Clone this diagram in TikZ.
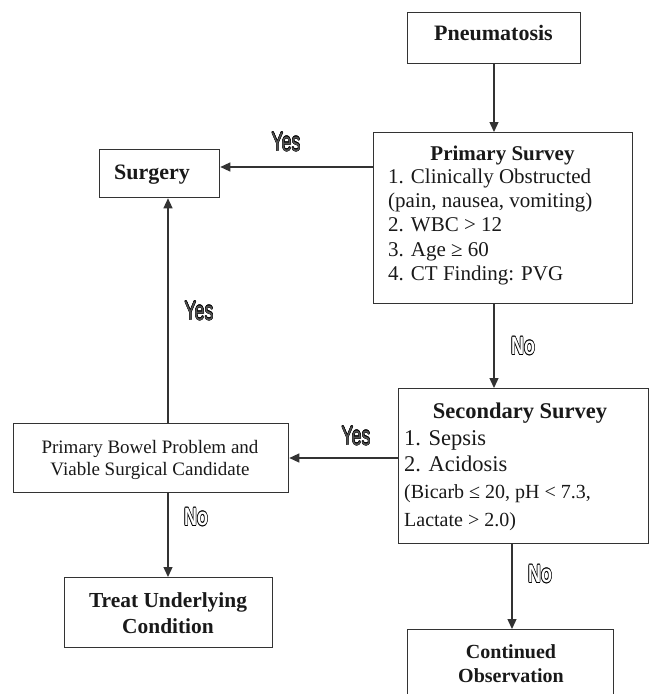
\documentclass[tikz,border=0pt]{standalone}
\usepackage{fontspec}
\setmainfont{Liberation Serif}
\newfontfamily\lblfont{Liberation Sans}
\usetikzlibrary{arrows.meta}
\newlength\holw
\newcommand\hollowtxt[2]{%
  \rlap{\kern\holw#2}\rlap{\kern-\holw#2}\rlap{\raisebox{\holw}{#2}}\rlap{\raisebox{-\holw}{#2}}%
  \rlap{\kern.7\holw\raisebox{.7\holw}{#2}}\rlap{\kern-.7\holw\raisebox{.7\holw}{#2}}%
  \rlap{\kern.7\holw\raisebox{-.7\holw}{#2}}\rlap{\kern-.7\holw\raisebox{-.7\holw}{#2}}%
  {\color{#1}#2}}
\newcommand\yeslabel{\setlength\holw{.45pt}\scalebox{0.66}[1]{\hollowtxt{black!68}{Yes}}}
\newcommand\nolabel{\setlength\holw{.75pt}\scalebox{0.72}[1]{\hollowtxt{white}{\bfseries No}}}
\definecolor{linec}{HTML}{333333}
\tikzset{
  box/.style={draw=linec, line width=1.3pt, inner sep=0pt, anchor=north west},
  txt/.style={inner sep=0pt, text=black!90},
  bigb/.style={txt, font=\bfseries\fontsize{22}{26}\selectfont},
  midb/.style={txt, font=\bfseries\fontsize{21}{24}\selectfont},
  midr/.style={txt, font=\fontsize{21}{24}\selectfont},
  bigr/.style={txt, font=\fontsize{22.5}{26}\selectfont},
  smr/.style={txt, font=\fontsize{20}{24}\selectfont},
  bowr/.style={txt, font=\fontsize{19}{22}\selectfont},
  yeslbl/.style={inner sep=0pt, font=\lblfont\fontsize{27}{27}\selectfont},
  nolbl/.style={inner sep=0pt, font=\lblfont\fontsize{25}{25}\selectfont},
  arr/.style={draw=linec, line width=1.3pt, -{Triangle[length=10pt,width=9pt]}}
}
\begin{document}
\begin{tikzpicture}[x=1pt,y=-1pt]
\useasboundingbox (0,0) rectangle (650,694);
% boxes
\node[box, minimum width=173pt, minimum height=51pt] (pneu) at (407,12) {};
\node[box, minimum width=259pt, minimum height=171pt] (ps) at (373,132) {};
\node[box, minimum width=120pt, minimum height=48pt] (surg) at (99,149) {};
\node[box, minimum width=250pt, minimum height=155pt] (ss) at (398,388) {};
\node[box, minimum width=275pt, minimum height=69pt] (bowel) at (13,423) {};
\node[box, minimum width=208pt, minimum height=70pt] (treat) at (64,577) {};
\begin{scope}
\clip (0,0) rectangle (650,694);
\node[box, minimum width=206pt, minimum height=90pt] (cont) at (407,629) {};
\end{scope}
% texts
\node[bigb, anchor=base] (pneut) at (493.5,40) {Pneumatosis};
\node[midb, anchor=base] (pst) at (502.5,160) {Primary Survey};
\node[midr, anchor=base west] (ps1) at (388,183) {1. Clinically Obstructed};
\node[midr, anchor=base west] (ps2) at (388,207) {(pain, nausea, vomiting)};
\node[midr, anchor=base west] (ps3) at (388,231) {2. WBC > 12};
\node[midr, anchor=base west] (ps4) at (388,256) {3. Age ≥ 60};
\node[midr, anchor=base west] (ps5) at (388,280) {4. CT Finding: PVG};
\node[bigb, anchor=base] (surgt) at (152,179) {Surgery};
\node[bigb, font=\bfseries\fontsize{22.5}{26}\selectfont, anchor=base] (sst) at (520,418) {Secondary Survey};
\node[bigr, anchor=base west] (ss1) at (404,445) {1. Sepsis};
\node[bigr, anchor=base west] (ss2) at (404,471) {2. Acidosis};
\node[smr, anchor=base west] (ss3) at (404,498) {(Bicarb ≤ 20, pH < 7.3,};
\node[smr, anchor=base west] (ss4) at (404,526) {Lactate > 2.0)};
\node[bowr, anchor=base] (bow1) at (150,453) {Primary Bowel Problem and};
\node[bowr, anchor=base] (bow2) at (150,475) {Viable Surgical Candidate};
\node[midb, font=\bfseries\fontsize{21.4}{26}\selectfont, anchor=base] (tr1) at (168,607) {Treat Underlying};
\node[midb, font=\bfseries\fontsize{21.4}{26}\selectfont, anchor=base] (tr2) at (168,633) {Condition};
\node[txt, font=\bfseries\fontsize{20}{24}\selectfont, anchor=base] (co1) at (511,658) {Continued};
\node[txt, font=\bfseries\fontsize{20}{24}\selectfont, anchor=base] (co2) at (511,682) {Observation};
% connector helper coordinates
\coordinate (a1) at (494,63);
\coordinate (a2) at (494,303);
\coordinate (a3) at (168,423);
\coordinate (a4) at (168,492);
\coordinate (a5) at (512,543);
\coordinate (a6) at (373,167);
\coordinate (a7) at (398,458);
% connectors
\draw[arr] (a1) -- (a1 |- ps.north);
\draw[arr] (a6) -- (a6 -| surg.east);
\draw[arr] (a2) -- (a2 |- ss.north);
\draw[arr] (a7) -- (a7 -| bowel.east);
\draw[arr] (a3) -- (a3 |- surg.south);
\draw[arr] (a4) -- (a4 |- treat.north);
\draw[arr] (a5) -- (a5 |- cont.north);
% labels
\node[yeslbl] (y1) at (286,142) {\yeslabel};
\node[yeslbl] (y2) at (199,311) {\yeslabel};
\node[yeslbl] (y3) at (356,436) {\yeslabel};
\node[nolbl] (n1) at (523,346) {\nolabel};
\node[nolbl] (n2) at (196,517) {\nolabel};
\node[nolbl] (n3) at (540,574) {\nolabel};
\end{tikzpicture}
\end{document}
